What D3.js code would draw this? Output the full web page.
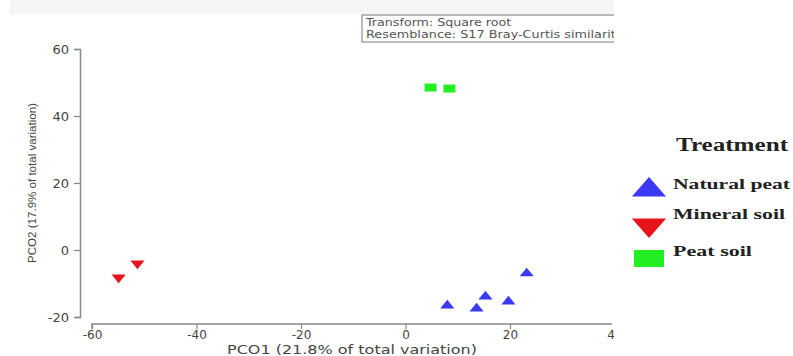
<!DOCTYPE html>
<html>
<head>
<meta charset="utf-8">
<script src="https://cdn.jsdelivr.net/npm/d3@7"></script>
<style>
body { margin: 0; background: #fff; }
svg { display: block; }
</style>
</head>
<body>
<svg width="793" height="356"></svg>
<script>
// values
var naturalX = [8.0, 13.6, 15.3, 19.7, 23.2];
var naturalY = [-16.6, -17.5, -13.9, -15.4, -7.0];
var mineralX = [-54.9, -51.3];
var mineralY = [-8.2, -4.0];
var peatX = [4.8, 8.4];
var peatY = [48.5, 48.2];

var xTicks = [-60, -40, -20, 0, 20, 40];
var yTicks = [-20, 0, 20, 40, 60];
var legendNames = ["Natural peat", "Mineral soil", "Peat soil"];
var boxLines = ["Transform: Square root", "Resemblance: S17 Bray-Curtis similarity"];

var svg = d3.select("svg");
var sans = "DejaVu Sans, Verdana, sans-serif";
var serif = "Liberation Serif, Times New Roman, serif";

var x = d3.scaleLinear().domain([-60, 40]).range([92, 614.5]);
var y = d3.scaleLinear().domain([-20, 60]).range([317, 49]);

svg.append("defs").append("clipPath").attr("id", "clip")
  .append("rect").attr("x", 0).attr("y", 0).attr("width", 614).attr("height", 356);

var g = svg.append("g").attr("clip-path", "url(#clip)");

// faint strip along the top
g.append("rect").attr("x", 10).attr("y", 0).attr("width", 610).attr("height", 14).style("fill", "#f4f5f6");

// note box
g.append("rect").attr("x", 362).attr("y", 15).attr("width", 260).attr("height", 27)
  .style("fill", "#fff").style("stroke", "#777").style("stroke-width", 1);
g.selectAll(".boxline").data(boxLines).enter().append("text")
  .attr("x", 366).attr("y", function(d, i) { return 26 + i * 12; })
  .attr("textLength", function(d) { return d.length * 6.6; }).attr("lengthAdjust", "spacingAndGlyphs")
  .style("font-family", sans).style("font-size", "10.5px").style("fill", "#555")
  .text(function(d) { return d; });

// axes
var fmt = function(d) { return String(d); };
var yAxis = g.append("g").attr("transform", "translate(80,0)")
  .call(d3.axisLeft(y).tickValues(yTicks).tickFormat(fmt).tickSize(6).tickPadding(5));
var xAxis = g.append("g").attr("transform", "translate(0,324)")
  .call(d3.axisBottom(x).tickValues(xTicks).tickFormat(fmt).tickSize(5).tickPadding(1));

[yAxis, xAxis].forEach(function(a) {
  a.select(".domain").style("stroke", "#888").style("stroke-width", 1.5);
  a.selectAll(".tick line").style("stroke", "#888").style("stroke-width", 1.2);
  a.selectAll("text").style("font-family", sans)
    .style("font-size", "13px").style("fill", "#444");
});
xAxis.selectAll("text").style("font-size", "12px");
xAxis.select(".domain").attr("d", "M92,5V0H612");

g.append("text").attr("x", 352).attr("y", 354).attr("text-anchor", "middle")
  .attr("textLength", 250).attr("lengthAdjust", "spacingAndGlyphs")
  .style("font-family", sans).style("font-size", "12px").style("fill", "#444")
  .text("PCO1 (21.8% of total variation)");
g.append("text").attr("transform", "translate(36,183) rotate(-90)").attr("text-anchor", "middle")
  .attr("textLength", 160).attr("lengthAdjust", "spacingAndGlyphs")
  .style("font-family", "Liberation Sans, Arial, sans-serif").style("font-size", "11.5px").style("fill", "#444")
  .text("PCO2 (17.9% of total variation)");

// points
var tri = d3.symbol().type(d3.symbolTriangle).size(60);

g.selectAll(".nat").data(naturalX).enter().append("path")
  .attr("d", tri)
  .attr("transform", function(d, i) { return "translate(" + x(d) + "," + y(naturalY[i]) + ") scale(1.2,0.85)"; })
  .style("fill", "#3a3af5");

g.selectAll(".min").data(mineralX).enter().append("path")
  .attr("d", tri)
  .attr("transform", function(d, i) { return "translate(" + x(d) + "," + y(mineralY[i]) + ") rotate(180) scale(1.2,0.85)"; })
  .style("fill", "#e8141b");

g.selectAll(".peat").data(peatX).enter().append("rect")
  .attr("x", function(d) { return x(d) - 6; })
  .attr("y", function(d, i) { return y(peatY[i]) - 4; })
  .attr("width", 12).attr("height", 8)
  .style("fill", "#22ee22");

// legend
var lg = svg.append("g");
lg.append("text").attr("x", 676).attr("y", 151)
  .attr("textLength", 112).attr("lengthAdjust", "spacingAndGlyphs")
  .style("font-family", serif).style("font-weight", "bold")
  .style("font-size", "18px").style("fill", "#222").text("Treatment");

var bigTri = d3.symbol().type(d3.symbolTriangle).size(300);
lg.append("path").attr("d", bigTri).attr("transform", "translate(649,190) scale(1.3,0.85)").style("fill", "#3a3af5");
lg.append("path").attr("d", bigTri).attr("transform", "translate(649,225) rotate(180) scale(1.3,0.85)").style("fill", "#e8141b");
lg.append("rect").attr("x", 634).attr("y", 250).attr("width", 30).attr("height", 17).style("fill", "#22ee22");

var legendLen = [117, 112, 79];
lg.selectAll(".lt").data(legendNames).enter().append("text")
  .attr("x", 673).attr("y", function(d, i) { return [189, 219, 256][i]; })
  .attr("textLength", function(d, i) { return legendLen[i]; }).attr("lengthAdjust", "spacingAndGlyphs")
  .style("font-family", serif).style("font-weight", "bold")
  .style("font-size", "15px").style("fill", "#222")
  .text(function(d) { return d; });
</script>
</body>
</html>
